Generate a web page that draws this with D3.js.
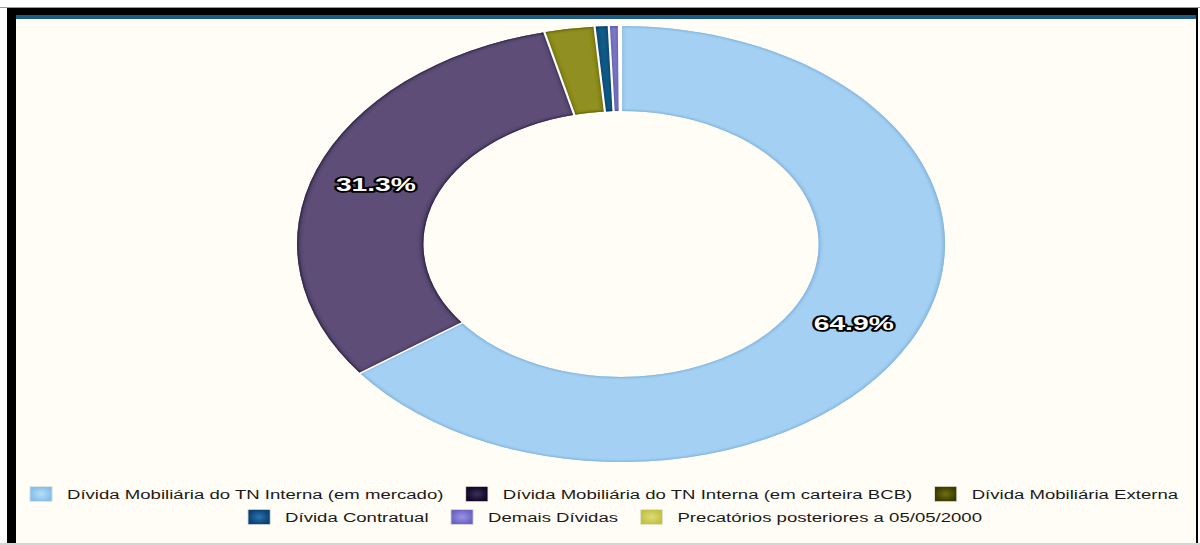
<!DOCTYPE html>
<html>
<head>
<meta charset="utf-8">
<script src="https://cdn.jsdelivr.net/npm/d3@7"></script>
<style>
  html, body { margin: 0; padding: 0; background: #fff; }
  svg { display: block; }
</style>
</head>
<body>
<div id="chart"></div>
<script>
// composição da dívida
const categories = [
  "Dívida Mobiliária do TN Interna (em mercado)",
  "Dívida Mobiliária do TN Interna (em carteira BCB)",
  "Dívida Mobiliária Externa",
  "Dívida Contratual",
  "Demais Dívidas",
  "Precatórios posteriores a 05/05/2000"
];
const shares = [64.9, 31.3, 2.5, 0.7, 0.5, 0.1];
const legendRows = [[0, 1, 2], [3, 4, 5]];

const sliceColors = ["#a4d1f3", "#5d4d77", "#8f8f22", "#1c5b88", "#807ac9", "#c9c94a"];
const edgeColors  = ["#74aad8", "#0c0524", "#4a4a05", "#08304f", "#4a459a", "#94941c"];
const swatchOuter = ["#86bfe9", "#100824", "#3b3b00", "#0a4174", "#6a64c2", "#c2c240"];
const swatchInner = ["#b8def7", "#3d305e", "#707014", "#2c74ad", "#9a93e4", "#dcdc7c"];

const width = 1200, height = 545;
const k = 1.486;               // horizontal stretch of the chart body
const cx = 621 / k, cy = 244;
const outerR = 218, innerR = 133;

const svg = d3.select("#chart").append("svg")
  .attr("width", width)
  .attr("height", height);

// frame
svg.append("rect").attr("x", 0).attr("y", 7).attr("width", width).attr("height", 1).attr("fill", "#9a9a9a");
svg.append("rect").attr("x", 7).attr("y", 8).attr("width", 1191).attr("height", 535).attr("fill", "#000");
svg.append("rect").attr("x", 16).attr("y", 15).attr("width", 1180).attr("height", 4).attr("fill", "#1d5a84");
svg.append("rect").attr("x", 16).attr("y", 19).attr("width", 1180).attr("height", 524).attr("fill", "#fffdf5");
svg.append("rect").attr("x", 0).attr("y", 543).attr("width", width).attr("height", 2).attr("fill", "#d6d6d6");

const defs = svg.append("defs");

// inner edge shading for each slice
sliceColors.forEach((c, i) => {
  const f = defs.append("filter").attr("id", "edge" + i)
    .attr("x", "-20%").attr("y", "-20%").attr("width", "140%").attr("height", "140%");
  f.append("feComponentTransfer").attr("in", "SourceAlpha").attr("result", "inv")
    .append("feFuncA").attr("type", "table").attr("tableValues", "1 0");
  f.append("feGaussianBlur").attr("in", "inv").attr("stdDeviation", 1.8).attr("result", "blur");
  f.append("feComposite").attr("in", "blur").attr("in2", "SourceAlpha").attr("operator", "in").attr("result", "inner");
  f.append("feFlood").attr("flood-color", edgeColors[i]).attr("result", "col");
  f.append("feComposite").attr("in", "col").attr("in2", "inner").attr("operator", "in").attr("result", "shade");
  const m = f.append("feMerge");
  m.append("feMergeNode").attr("in", "SourceGraphic");
  m.append("feMergeNode").attr("in", "shade");
  m.append("feMergeNode").attr("in", "shade");

  const g = defs.append("radialGradient").attr("id", "sw" + i);
  g.append("stop").attr("offset", "0%").attr("stop-color", swatchInner[i]);
  g.append("stop").attr("offset", "100%").attr("stop-color", swatchOuter[i]);
});

const body = svg.append("g").attr("transform", `scale(${k},1)`);

const data = categories.map((name, i) => ({ name, value: shares[i], i }));
const pie = d3.pie().sort(null).value(d => d.value);
const arcs = pie(data);
const arc = d3.arc().innerRadius(innerR).outerRadius(outerR);
const labelArc = d3.arc().innerRadius((innerR + outerR) / 2).outerRadius((innerR + outerR) / 2);

const donut = body.append("g").attr("transform", `translate(${cx},${cy})`);

donut.selectAll("path.slice")
  .data(arcs)
  .join("path")
  .attr("class", "slice")
  .attr("d", arc)
  .attr("fill", d => sliceColors[d.data.i])
  .attr("filter", d => `url(#edge${d.data.i})`);

// white separators between slices
donut.selectAll("line.sep")
  .data(arcs)
  .join("line")
  .attr("class", "sep")
  .attr("x1", d => d3.pointRadial(d.startAngle, innerR - 1)[0])
  .attr("y1", d => d3.pointRadial(d.startAngle, innerR - 1)[1])
  .attr("x2", d => d3.pointRadial(d.startAngle, outerR + 1)[0])
  .attr("y2", d => d3.pointRadial(d.startAngle, outerR + 1)[1])
  .attr("stroke", "#ffffff")
  .attr("stroke-width", 1.5);

donut.selectAll("text.pct")
  .data(arcs.filter(d => d.data.value >= 5))
  .join("text")
  .attr("class", "pct")
  .attr("transform", d => `translate(${labelArc.centroid(d)})`)
  .attr("text-anchor", "middle")
  .attr("dy", "0.36em")
  .style("font-family", "'Liberation Sans', Arial, sans-serif")
  .style("font-weight", "bold")
  .style("font-size", "19px")
  .attr("fill", "#fff")
  .attr("stroke", "#000")
  .attr("stroke-width", 3.5)
  .attr("stroke-linejoin", "round")
  .attr("paint-order", "stroke")
  .text(d => d3.format(".1f")(d.data.value) + "%");

// legend, two centred rows
const legend = body.append("g");
const rowY = [495, 518];
const rowCenter = [604 / k, 615 / k];
const box = 15, boxGap = 10, itemGap = 15;

legendRows.forEach((row, r) => {
  const rowG = legend.append("g");
  let x = 0;
  row.forEach(i => {
    const item = rowG.append("g").attr("transform", `translate(${x},0)`);
    item.append("rect")
      .attr("x", 0).attr("y", rowY[r] - box / 2 - 1)
      .attr("width", box).attr("height", box)
      .attr("fill", `url(#sw${i})`)
      .attr("stroke", "#e8e8e0").attr("stroke-width", 0.6);
    const t = item.append("text")
      .attr("x", box + boxGap).attr("y", rowY[r])
      .attr("dy", "0.35em")
      .style("font-family", "'Liberation Sans', Arial, sans-serif")
      .style("font-size", "12.5px")
      .attr("fill", "#1a1a1a")
      .text(categories[i]);
    x += box + boxGap + t.node().getComputedTextLength() + itemGap;
  });
  const w = x - itemGap;
  rowG.attr("transform", `translate(${rowCenter[r] - w / 2},0)`);
});
</script>
</body>
</html>
